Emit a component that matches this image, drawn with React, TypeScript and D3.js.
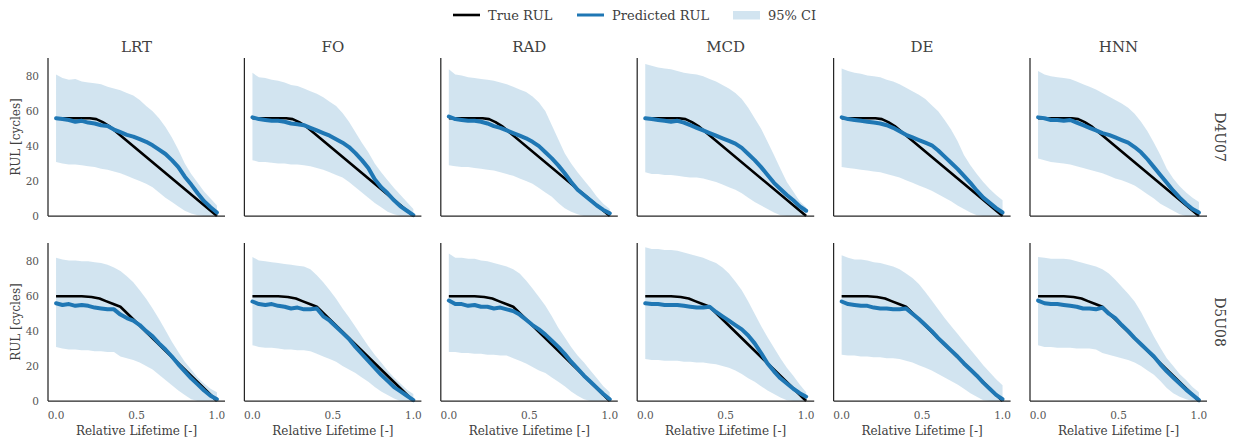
import React from "react";
import * as d3 from "d3";

// Methods (columns) and test units (rows)
const methods = ["LRT", "FO", "RAD", "MCD", "DE", "HNN"];
const units = ["D4U07", "D5U08"];

// Relative lifetime sample points shared by every predicted series
const lifeGrid = [0, 0.04, 0.08, 0.12, 0.16, 0.2, 0.24, 0.28, 0.32, 0.36, 0.4, 0.44, 0.48, 0.52, 0.56, 0.6, 0.64, 0.68, 0.72, 0.76, 0.8, 0.84, 0.88, 0.92, 0.96, 1.0];

const xTicks = [0, 0.5, 1.0];
const yTicks = [0, 20, 40, 60, 80];

// Ground-truth RUL (piecewise) for each unit
const trueLifeD4U07 = [0, 0.21, 0.25, 0.29, 0.33, 1.0];
const trueRulD4U07 = [56, 56, 55.5, 53.8, 51.5, 0];
const trueLifeD5U08 = [0, 0.16, 0.22, 0.27, 0.31, 0.36, 0.4, 1.0];
const trueRulD5U08 = [60, 60, 59.6, 58.7, 57.2, 55.4, 54, 0];

// ---- D4U07 ----
const predLRT_D4U07 = [56, 55.5, 55, 54, 54.5, 53.5, 53, 52, 51.5, 49.5, 48, 46.5, 45.5, 44, 42.5, 40.5, 38, 35.5, 32, 28, 22.5, 18, 13, 8.5, 5, 2];
const upperLRT_D4U07 = [81, 79, 78, 78.5, 77, 76.5, 76, 75.5, 74, 73, 72, 70.5, 69, 66.5, 63, 60, 56, 51, 45, 38, 30, 24, 19, 14, 10, 6];
const lowerLRT_D4U07 = [31, 30, 29.5, 29.5, 29, 28.5, 28, 27, 26.5, 25.5, 24.5, 23, 21.5, 20, 18.5, 16.5, 13.5, 10.5, 8, 5.5, 3, 1.5, 0.5, 0, 0, 0];

const predFO_D4U07 = [56.5, 55.5, 55, 54.5, 54.5, 54, 53, 52.5, 52, 50.5, 49, 47.5, 46, 44, 42, 39.5, 36, 32, 27.5, 21, 16.5, 13, 9, 5.5, 3, 0.5];
const upperFO_D4U07 = [82, 79.5, 79, 78, 77.5, 76.5, 75, 74.5, 73, 71.5, 70, 68, 65.5, 63, 59, 54, 48, 42, 36.5, 30, 25, 20.5, 16, 12, 8, 4];
const lowerFO_D4U07 = [32, 31, 31, 30.5, 30, 30, 29.5, 29.5, 29, 28.5, 27.5, 26.5, 25, 23.5, 22, 19.5, 16.5, 13.5, 10.5, 7.5, 5, 2.5, 1, 0, 0, 0];

const predRAD_D4U07 = [57, 55.5, 55, 54.5, 54.5, 54, 53, 51.5, 50.5, 49, 47.5, 46, 44.5, 42.5, 40, 36.5, 33, 29, 24.5, 19.5, 15, 12, 9, 6, 3.5, 1.5];
const upperRAD_D4U07 = [84, 81, 80.5, 79.5, 79, 78.5, 78, 77.5, 76.5, 75.5, 74, 72.5, 71, 68.5, 65, 60, 52, 44, 36, 30, 25, 20.5, 16, 11, 7, 4];
const lowerRAD_D4U07 = [29, 28.5, 28, 28, 27.5, 27, 26.5, 26, 25, 24, 23, 21.5, 20, 18.5, 16, 13.5, 11, 7.5, 4.5, 2.5, 1, 0, 0, 0, 0, 0];

const predMCD_D4U07 = [56, 55.5, 55, 54.5, 54, 54.5, 53.5, 52, 50.5, 49, 47.5, 46, 44.5, 43, 41.5, 39, 35.5, 32, 28, 23.5, 19, 15.5, 12, 9, 5.5, 3];
const upperMCD_D4U07 = [87, 86, 85, 84.5, 84, 83, 82, 81.5, 81, 80, 78.5, 77, 75, 73, 70.5, 67, 62, 56, 50, 42.5, 35, 27, 19.5, 14, 8.5, 5];
const lowerMCD_D4U07 = [25, 24, 24, 23.5, 23.5, 23, 22.5, 22, 22, 21.5, 20.5, 19.5, 18, 16.5, 15, 13, 10.5, 8, 6, 4, 2, 0.5, 0, 0, 0, 0];

const predDE_D4U07 = [56.5, 55.5, 55, 54.5, 54, 53.5, 53, 52, 50.5, 48.5, 46.5, 45, 43.5, 42, 40.5, 37.5, 34, 30.5, 27, 23, 19, 14.5, 10.5, 7.5, 4.5, 2];
const upperDE_D4U07 = [84.5, 83, 82, 81.5, 80.5, 80, 79.5, 78, 77, 75.5, 73.5, 71.5, 69.5, 67, 63.5, 60, 55, 49.5, 43, 35, 29, 24, 19.5, 15.5, 12, 9];
const lowerDE_D4U07 = [28, 27.5, 27, 26.5, 26, 25.5, 25, 24, 23, 22, 20.5, 19, 17.5, 16, 14.5, 12.5, 10.5, 8.5, 6, 4, 2, 0.5, 0, 0, 0, 0];

const predHNN_D4U07 = [56.5, 56, 55, 55, 54.5, 55, 53.5, 52, 50.5, 49, 47.5, 46.5, 45, 43.5, 42, 39.5, 36.5, 32.5, 28, 23.5, 19, 14.5, 10.5, 7, 4, 2];
const upperHNN_D4U07 = [83, 81, 80, 79.5, 79, 78.5, 77, 75.5, 74, 72.5, 70.5, 68.5, 66.5, 64.5, 62, 58.5, 54, 48.5, 42, 35, 27, 21.5, 17, 13.5, 10.5, 8];
const lowerHNN_D4U07 = [33, 32, 31, 30.5, 30, 29.5, 28.5, 27.5, 26.5, 25.5, 24.5, 23, 21.5, 20.5, 19, 17.5, 15, 12.5, 10, 7, 5, 3, 1, 0, 0, 0];

// ---- D5U08 ----
const predLRT_D5U08 = [56, 55, 55.5, 54.5, 55, 54.5, 53.5, 53, 52.5, 52.5, 49.5, 47.5, 46, 43.5, 40, 37, 33, 29.5, 25.5, 21, 17, 13, 9.5, 6, 3, 1];
const upperLRT_D5U08 = [82, 81, 80.5, 80.5, 80, 80, 79.5, 79, 78, 76.5, 74.5, 71.5, 68, 63.5, 58.5, 53, 47, 40.5, 34, 28, 22.5, 18, 13.5, 10, 7, 5];
const lowerLRT_D5U08 = [31, 30, 29.5, 29.5, 29, 29, 28.5, 28.5, 28, 28, 25.5, 24.5, 23.5, 22, 20, 18, 15, 12, 9, 6, 3.5, 1, 0, 0, 0, 0];

const predFO_D5U08 = [57, 55.5, 55, 55.5, 54.5, 54, 53, 53.5, 52.5, 52.5, 53, 48.5, 46, 42.5, 39, 35.5, 31, 27, 23, 19, 15, 11.5, 8, 5.5, 3, 0.5];
const upperFO_D5U08 = [82.5, 80.5, 80, 79.5, 79, 78.5, 78, 77.5, 77, 75.5, 72, 68, 63.5, 58.5, 53, 48, 42.5, 37, 31.5, 26.5, 22, 17.5, 13.5, 10, 6.5, 4];
const lowerFO_D5U08 = [32, 31, 30.5, 30.5, 30, 29.5, 29.5, 29, 29, 28.5, 27, 25.5, 24, 22.5, 20, 18, 16, 13.5, 11, 8, 5.5, 3.5, 1.5, 0, 0, 0];

const predRAD_D5U08 = [57.5, 55.5, 55.5, 54.5, 55, 54, 54, 53, 53.5, 52.5, 51.5, 49.5, 46.5, 43.5, 41, 38, 34.5, 31, 27, 22.5, 18.5, 14.5, 11, 7.5, 4, 1];
const upperRAD_D5U08 = [84.5, 82, 82, 81.5, 81.5, 80.5, 80, 79, 78, 77, 75.5, 73, 69, 64.5, 59.5, 54.5, 48.5, 42, 36.5, 31, 26, 22, 17.5, 13, 8.5, 5];
const lowerRAD_D5U08 = [28, 28, 27.5, 27.5, 27, 27, 26.5, 26.5, 26, 26, 24.5, 23, 21.5, 19.5, 17.5, 16, 13.5, 11, 8.5, 5.5, 3, 1, 0, 0, 0, 0];

const predMCD_D5U08 = [56, 55.5, 55.5, 55, 55, 55, 54.5, 54, 53.5, 53.5, 54, 51, 48.5, 46, 43.5, 41, 37.5, 33, 27.5, 21.5, 17, 13, 10, 7, 4.5, 2.5];
const upperMCD_D5U08 = [88, 87, 87, 86.5, 86.5, 86, 85, 84, 83, 82, 80.5, 79, 76.5, 73, 68.5, 63.5, 57, 50, 43, 36.5, 30.5, 24.5, 19, 14.5, 9.5, 5];
const lowerMCD_D5U08 = [24, 23.5, 23.5, 23, 23, 23, 22.5, 22.5, 22, 22, 21.5, 21, 20, 19, 17.5, 15.5, 13, 11, 8.5, 6, 4, 2, 0.5, 0, 0, 0];

const predDE_D5U08 = [57, 55.5, 55, 54.5, 54.5, 53.5, 53, 53, 52.5, 52.5, 53, 50, 47, 43.5, 40, 36, 32.5, 29, 25.5, 21.5, 18, 14.5, 10.5, 7, 3.5, 1];
const upperDE_D5U08 = [83.5, 82, 81, 81, 80.5, 79.5, 79, 78, 77, 75.5, 73, 70.5, 67, 62.5, 57.5, 52.5, 47.5, 43, 38.5, 34, 29.5, 25, 20.5, 16.5, 12.5, 9];
const lowerDE_D5U08 = [26.5, 26, 26, 25.5, 25.5, 25, 25, 24.5, 24.5, 24, 23, 22, 20.5, 19, 17.5, 15.5, 13.5, 11.5, 9.5, 7, 4.5, 2.5, 0.5, 0, 0, 0];

const predHNN_D5U08 = [57.5, 56, 55.5, 55.5, 55, 54.5, 54, 53, 53, 52.5, 53.5, 50, 47.5, 43.5, 40, 36, 32.5, 29, 25.5, 21, 17, 13.5, 10, 6.5, 3.5, 0.5];
const upperHNN_D5U08 = [82.5, 82, 81.5, 81.5, 81.5, 81, 80, 79, 78, 77, 75.5, 73, 69.5, 65.5, 61.5, 57, 51, 44, 37, 30.5, 24.5, 20, 15.5, 12, 8, 5];
const lowerHNN_D5U08 = [32, 31, 31, 30.5, 30.5, 30.5, 30, 30, 30, 29.5, 27.5, 26.5, 25.5, 24.5, 23.5, 22, 20, 17.5, 15, 11.5, 7.5, 4.5, 2.5, 1, 0, 0];

// Lookup tables assembled from the named arrays above
const trueByUnit = [
  { life: trueLifeD4U07, rul: trueRulD4U07 },
  { life: trueLifeD5U08, rul: trueRulD5U08 },
];
const panelSeries = [
  [
    [predLRT_D4U07, lowerLRT_D4U07, upperLRT_D4U07],
    [predFO_D4U07, lowerFO_D4U07, upperFO_D4U07],
    [predRAD_D4U07, lowerRAD_D4U07, upperRAD_D4U07],
    [predMCD_D4U07, lowerMCD_D4U07, upperMCD_D4U07],
    [predDE_D4U07, lowerDE_D4U07, upperDE_D4U07],
    [predHNN_D4U07, lowerHNN_D4U07, upperHNN_D4U07],
  ],
  [
    [predLRT_D5U08, lowerLRT_D5U08, upperLRT_D5U08],
    [predFO_D5U08, lowerFO_D5U08, upperFO_D5U08],
    [predRAD_D5U08, lowerRAD_D5U08, upperRAD_D5U08],
    [predMCD_D5U08, lowerMCD_D5U08, upperMCD_D5U08],
    [predDE_D5U08, lowerDE_D5U08, upperDE_D5U08],
    [predHNN_D5U08, lowerHNN_D5U08, upperHNN_D5U08],
  ],
];

const W = 1235;
const H = 441;
const FONT = "'DejaVu Serif', serif";
const BLUE = "#1f77b4";
const TEXT = "#404040";
const TICK = "#555555";
const SPINE = "#262626";

const panelW = 177;
const panelH = 158;
const colLeft = [48, 244.4, 440.8, 637.2, 833.6, 1030];
const rowTop = [58, 243];

function Panel({ row, col }: { row: number; col: number }) {
  const left = colLeft[col];
  const top = rowTop[row];
  const x = d3.scaleLinear().domain([-0.05, 1.05]).range([left, left + panelW]);
  const y = d3.scaleLinear().domain([0, 90.5]).range([top + panelH, top]);
  const [pred, lower, upper] = panelSeries[row][col];
  const truth = trueByUnit[row];

  const band = d3
    .area<number>()
    .x((_, i) => x(lifeGrid[i]))
    .y0((_, i) => y(lower[i]))
    .y1((_, i) => y(upper[i]));
  const predLine = d3
    .line<number>()
    .x((_, i) => x(lifeGrid[i]))
    .y((d) => y(d));
  const trueLine = d3
    .line<number>()
    .x((_, i) => x(truth.life[i]))
    .y((d) => y(d));

  const bottom = top + panelH;
  return (
    <g>
      <path d={band(pred) || ""} fill={BLUE} fillOpacity={0.2} stroke="none" />
      <path d={trueLine(truth.rul) || ""} fill="none" stroke="#000" strokeWidth={2.6} strokeLinejoin="round" />
      <path d={predLine(pred) || ""} fill="none" stroke={BLUE} strokeWidth={4} strokeLinejoin="round" strokeLinecap="round" />
      <line x1={left} x2={left} y1={top} y2={bottom} stroke={SPINE} strokeWidth={1.25} />
      <line x1={left} x2={left + panelW} y1={bottom} y2={bottom} stroke={SPINE} strokeWidth={1.25} />
      {col === 0 &&
        yTicks.map((t) => (
          <text key={t} x={left - 9} y={y(t)} textAnchor="end" dominantBaseline="central" fontSize={10.5} fill={TICK} fontFamily={FONT}>
            {t}
          </text>
        ))}
      {row === 1 &&
        xTicks.map((t) => (
          <text key={t} x={x(t)} y={bottom + 14} textAnchor="middle" dominantBaseline="central" fontSize={10.5} fill={TICK} fontFamily={FONT}>
            {t.toFixed(1)}
          </text>
        ))}
      {row === 0 && (
        <text x={left + panelW / 2} y={top - 6} textAnchor="middle" fontSize={15} fill={TEXT} fontFamily={FONT}>
          {methods[col]}
        </text>
      )}
      {row === 1 && (
        <text x={left + panelW / 2} y={bottom + 34} textAnchor="middle" fontSize={12} fill={TEXT} fontFamily={FONT}>
          Relative Lifetime [-]
        </text>
      )}
      {col === 0 && (
        <text
          transform={`translate(16, ${top + panelH / 2}) rotate(-90)`}
          textAnchor="middle"
          dominantBaseline="central"
          fontSize={12}
          fill={TEXT}
          fontFamily={FONT}
        >
          RUL [cycles]
        </text>
      )}
      {col === methods.length - 1 && (
        <text
          transform={`translate(1220, ${top + panelH / 2}) rotate(90)`}
          textAnchor="middle"
          dominantBaseline="central"
          fontSize={14}
          fill={TEXT}
          fontFamily={FONT}
        >
          {units[row]}
        </text>
      )}
    </g>
  );
}

function Legend() {
  const ly = 15;
  return (
    <g fontFamily={FONT} fontSize={13} fill={TEXT}>
      <line x1={453} x2={480} y1={ly} y2={ly} stroke="#000" strokeWidth={2.6} />
      <text x={488} y={ly} dominantBaseline="central">True RUL</text>
      <line x1={577} x2={604} y1={ly} y2={ly} stroke={BLUE} strokeWidth={3} />
      <text x={612} y={ly} dominantBaseline="central">Predicted RUL</text>
      <rect x={733} y={11} width={27} height={8.5} fill={BLUE} fillOpacity={0.2} />
      <text x={768} y={ly} dominantBaseline="central">95% CI</text>
    </g>
  );
}

export default function App() {
  return (
    <svg
      width={W}
      height={H}
      viewBox={`0 0 ${W} ${H}`}
      style={{ position: "absolute", left: 0, top: 0, background: "#fff" }}
    >
      <rect width={W} height={H} fill="#fff" />
      <Legend />
      {units.map((_, r) => methods.map((_, c) => <Panel key={`${r}-${c}`} row={r} col={c} />))}
    </svg>
  );
}
